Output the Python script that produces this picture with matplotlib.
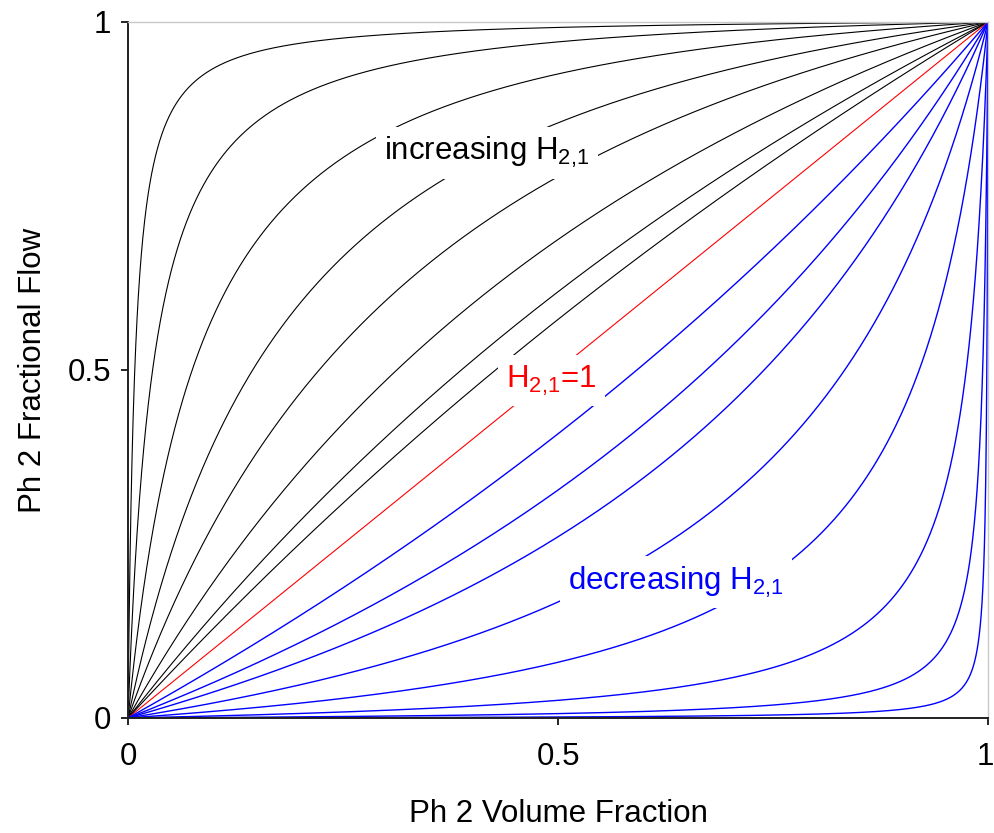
import numpy as np
import matplotlib
matplotlib.use("Agg")
import matplotlib.pyplot as plt
from matplotlib.transforms import ScaledTranslation

plt.rcParams["font.family"] = ["Liberation Sans", "DejaVu Sans"]
plt.rcParams["mathtext.fontset"] = "custom"
plt.rcParams["mathtext.rm"] = "Liberation Sans"
plt.rcParams["mathtext.it"] = "Liberation Sans"
plt.rcParams["mathtext.default"] = "rm"

# Hindrance ratios H_{2,1} for each fractional-flow curve
h_increasing = [127.0, 34.0, 12.4, 5.9, 3.5, 2.2, 1.58, 1.34]
h_unity = [1.0]
h_decreasing = [0.69, 0.487, 0.352, 0.2, 0.087, 0.026, 0.0063, 0.0014]

tick_values = [0, 0.5, 1]
tick_labels = ["0", "0.5", "1"]

x_label = "Ph 2 Volume Fraction"
y_label = "Ph 2 Fractional Flow"


def fractional_flow(x, h):
    return h * x / (1.0 + (h - 1.0) * x)


fig = plt.figure(figsize=(9.94, 8.33), dpi=100)
ax = fig.add_axes([0.1288, 0.1381, 0.8652, 0.8355])

x = np.linspace(0.0, 1.0, 4001)
for h in h_increasing:
    ax.plot(x, fractional_flow(x, h), color="black", lw=0.8, zorder=2)
for h in h_unity:
    ax.plot(x, fractional_flow(x, h), color="#ff0000", lw=0.8, zorder=2)
for h in h_decreasing:
    ax.plot(x, fractional_flow(x, h), color="#0000ff", lw=1.0, zorder=2)

ax.set_xlim(0, 1)
ax.set_ylim(0, 1)
ax.set_xticks(tick_values)
ax.set_xticklabels(tick_labels)
ax.set_yticks(tick_values)
ax.set_yticklabels(tick_labels)
ax.tick_params(axis="both", labelsize=22.5, length=5, width=1.2,
               direction="out", color="black")
ax.tick_params(axis="x", pad=12)
ax.tick_params(axis="y", pad=7)

# keep the right-most x tick label inside the figure edge
last = ax.get_xticklabels()[-1]
last.set_transform(last.get_transform() +
                   ScaledTranslation(-3 / 100, 0, fig.dpi_scale_trans))

for side in ("left", "bottom"):
    ax.spines[side].set_color("#202020")
    ax.spines[side].set_linewidth(1.4)
for side in ("top", "right"):
    ax.spines[side].set_color("#c8c8c8")
    ax.spines[side].set_linewidth(1.0)

ax.set_xlabel(x_label, fontsize=22.5, labelpad=20)
ax.set_ylabel(y_label, fontsize=22.5, labelpad=14)

sub = r"H$_{2{,}1}$"
box = dict(facecolor="white", edgecolor="none", pad=6)
ax.text(0.4174, 0.812, "increasing " + sub, color="black", fontsize=22.5,
        ha="center", va="center", bbox=box, zorder=5)
ax.text(0.492, 0.485, sub + "=1", color="#ff0000", fontsize=22.5,
        ha="center", va="center", bbox=box, zorder=5)
ax.text(0.637, 0.195, "decreasing " + sub, color="#0000ff", fontsize=22.5,
        ha="center", va="center", bbox=box, zorder=5)

fig.savefig("out.png", dpi=100)
